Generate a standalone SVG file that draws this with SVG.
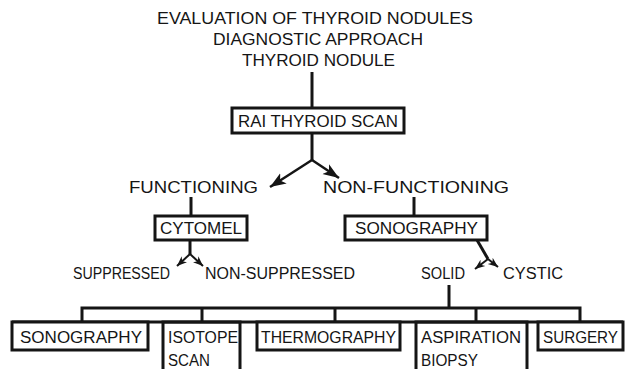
<svg xmlns="http://www.w3.org/2000/svg" width="631" height="369" viewBox="0 0 631 369">
<style>
  text { font-family: "Liberation Sans", Arial, sans-serif; font-size: 16px; fill: #151515; }
  .box { fill: #fff; stroke: #151515; stroke-width: 3; }
  .ln { fill: none; stroke: #151515; stroke-width: 3; }
  .ar { fill: none; stroke: #151515; stroke-width: 2.5; }
  .as { fill: none; stroke: #151515; stroke-width: 2; }
</style>
<defs>
  <marker id="big" markerUnits="userSpaceOnUse" markerWidth="18" markerHeight="14" refX="16" refY="7" orient="auto">
    <path d="M0,1 L16,7 L0,13 L4,7 z" fill="#151515"/>
  </marker>
  <marker id="small" markerUnits="userSpaceOnUse" markerWidth="12" markerHeight="10" refX="10" refY="5" orient="auto">
    <path d="M0,1 L10,5 L0,9 L3,5 z" fill="#151515"/>
  </marker>
</defs>
<rect width="631" height="369" fill="#fff"/>

<g id="title">
  <text x="157" y="24" textLength="316" lengthAdjust="spacingAndGlyphs">EVALUATION OF THYROID NODULES</text>
  <text x="213" y="45" textLength="210" lengthAdjust="spacingAndGlyphs">DIAGNOSTIC APPROACH</text>
  <text x="242" y="66" textLength="153" lengthAdjust="spacingAndGlyphs">THYROID NODULE</text>
</g>

<g id="connectors">
  <line class="ln" x1="312" y1="72" x2="312" y2="108"/>
  <line class="ln" x1="312" y1="133" x2="312" y2="160"/>
  <line class="ar" x1="312" y1="160" x2="270" y2="187" marker-end="url(#big)"/>
  <line class="ar" x1="312" y1="160" x2="339" y2="178" marker-end="url(#big)"/>
  <line class="ln" x1="191" y1="197" x2="191" y2="216"/>
  <line class="ln" x1="414" y1="197" x2="414" y2="216"/>
  <line class="ln" x1="190" y1="240" x2="190" y2="254"/>
  <line class="as" x1="190" y1="254" x2="177" y2="266" marker-end="url(#small)"/>
  <line class="as" x1="190" y1="254" x2="203" y2="266" marker-end="url(#small)"/>
  <line class="ln" x1="477" y1="240" x2="488" y2="259"/>
  <line class="as" x1="488" y1="259" x2="475" y2="269" marker-end="url(#small)"/>
  <line class="as" x1="488" y1="259" x2="498" y2="267" marker-end="url(#small)"/>
  <line class="ln" x1="449" y1="285" x2="449" y2="308"/>
  <polyline class="ln" points="82,322 82,308 580,308 580,322"/>
  <line class="ln" x1="202" y1="308" x2="202" y2="322"/>
  <line class="ln" x1="335" y1="308" x2="335" y2="322"/>
  <line class="ln" x1="476" y1="308" x2="476" y2="322"/>
  <line class="ln" x1="12" y1="322" x2="623" y2="322"/>
</g>

<g id="rai">
  <rect class="box" x="232" y="108" width="172" height="25"/>
  <text x="238" y="127" textLength="160" lengthAdjust="spacingAndGlyphs">RAI THYROID SCAN</text>
</g>
<g id="functioning">
  <text x="129" y="193" textLength="129" lengthAdjust="spacingAndGlyphs">FUNCTIONING</text>
</g>
<g id="non-functioning">
  <text x="323" y="193" textLength="186" lengthAdjust="spacingAndGlyphs">NON-FUNCTIONING</text>
</g>
<g id="cytomel">
  <rect class="box" x="155" y="216" width="92" height="24"/>
  <text x="160" y="234" textLength="82" lengthAdjust="spacingAndGlyphs">CYTOMEL</text>
</g>
<g id="sonography1">
  <rect class="box" x="345" y="216" width="142" height="24"/>
  <text x="355" y="234" textLength="123" lengthAdjust="spacingAndGlyphs">SONOGRAPHY</text>
</g>
<g id="suppressed">
  <text x="73" y="279" textLength="97" lengthAdjust="spacingAndGlyphs">SUPPRESSED</text>
</g>
<g id="non-suppressed">
  <text x="205" y="279" textLength="150" lengthAdjust="spacingAndGlyphs">NON-SUPPRESSED</text>
</g>
<g id="solid">
  <text x="421" y="279" textLength="44" lengthAdjust="spacingAndGlyphs">SOLID</text>
</g>
<g id="cystic">
  <text x="503" y="279" textLength="60" lengthAdjust="spacingAndGlyphs">CYSTIC</text>
</g>
<g id="sonography2">
  <rect class="box" x="12" y="322" width="136" height="28"/>
  <text x="20" y="343" textLength="122" lengthAdjust="spacingAndGlyphs">SONOGRAPHY</text>
</g>
<g id="isotope">
  <polyline class="ln" points="163,372 163,322 240,322 240,372"/>
  <text x="168" y="343" textLength="70" lengthAdjust="spacingAndGlyphs">ISOTOPE</text>
  <text x="168" y="366" textLength="42" lengthAdjust="spacingAndGlyphs">SCAN</text>
</g>
<g id="thermography">
  <rect class="box" x="257" y="322" width="143" height="28"/>
  <text x="261" y="343" textLength="135" lengthAdjust="spacingAndGlyphs">THERMOGRAPHY</text>
</g>
<g id="aspiration">
  <polyline class="ln" points="416,372 416,322 527,322 527,372"/>
  <text x="421" y="343" textLength="100" lengthAdjust="spacingAndGlyphs">ASPIRATION</text>
  <text x="421" y="366" textLength="57" lengthAdjust="spacingAndGlyphs">BIOPSY</text>
</g>
<g id="surgery">
  <rect class="box" x="538" y="322" width="85" height="28"/>
  <text x="543" y="343" textLength="75" lengthAdjust="spacingAndGlyphs">SURGERY</text>
</g>
</svg>
